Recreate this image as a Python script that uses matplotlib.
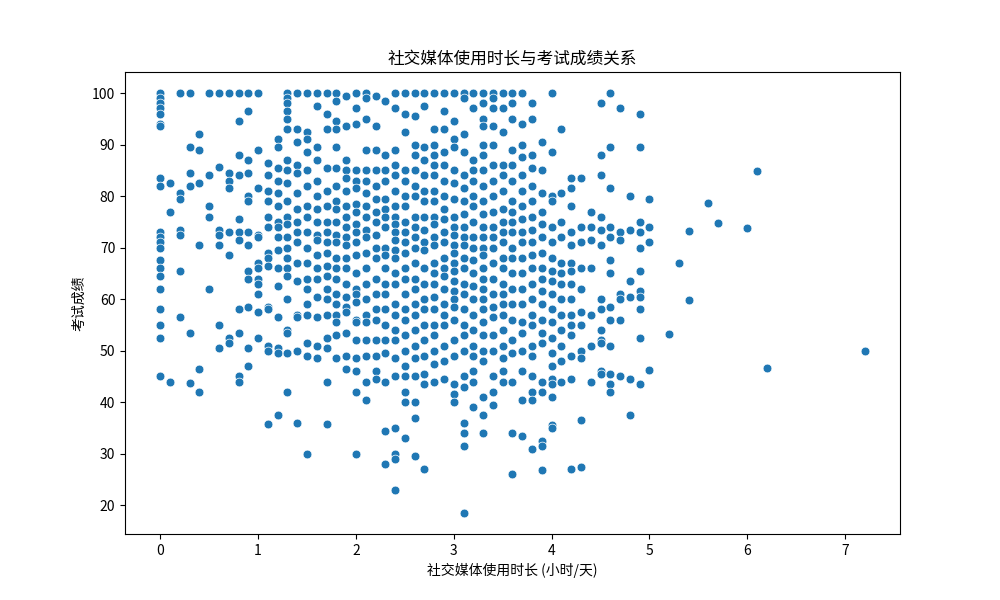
import matplotlib
matplotlib.use('Agg')
import matplotlib.pyplot as plt
import pandas as pd
import seaborn as sns

plt.rcParams['font.family'] = ['Noto Sans CJK SC', 'DejaVu Sans']
plt.rcParams['axes.unicode_minus'] = False

# scores, grouped by daily social media hours
columns = {
    0.0: [100, 99, 98, 97, 96, 94, 93.5, 83.5, 82, 73, 72, 71, 70, 67.5, 66, 64.5, 62, 58, 55, 52.5, 45],
    0.1: [82.5, 77, 44],
    0.2: [100, 80.5, 79.5, 73.5, 72.5, 65.5, 56.5],
    0.3: [100, 89.5, 84.5, 82, 53.5, 43.8],
    0.4: [92, 89, 82.5, 70.5, 46.5, 42],
    0.5: [100, 84, 78, 76, 62],
    0.6: [100, 85.7, 73.5, 72.5, 70.5, 55, 50.5],
    0.7: [100, 84.5, 83, 81.5, 73, 68.5, 52.5, 51.5],
    0.8: [100, 94.5, 88, 84, 75.5, 73, 71.5, 58, 53.5, 45, 44],
    0.9: [100, 96.5, 87, 84.5, 80, 79, 73, 70.5, 65.5, 64, 58.5, 50.5, 47],
    1.0: [100, 89, 81.5, 72.5, 72, 67, 66, 64, 63, 61, 57.5, 52.5],
    1.1: [86.5, 84, 81, 79, 76, 74, 69, 68, 66.5, 58.5, 58, 51, 50, 35.8],
    1.2: [91, 89.5, 85.5, 83, 80.5, 78, 75, 74, 72, 69.5, 66, 62.5, 56.5, 50.5, 49.5, 37.5],
    1.3: [100, 99, 98, 96.5, 95, 93, 87, 85, 82.5, 79, 76, 74.5, 72, 70, 68, 66, 64.5, 60, 54, 53.5, 49.5, 42],
    1.4: [100, 93, 90.5, 86, 84.5, 80.5, 77.5, 75, 73, 71, 67, 63.5, 57, 56.5, 50, 36],
    1.5: [100, 92.5, 91, 88.5, 85, 82, 78, 76, 73, 70, 67, 64, 62, 59, 57, 51.5, 49, 30],
    1.6: [100, 97.5, 89.5, 87, 83, 80, 77.5, 75, 72.5, 71.5, 68.5, 66, 64, 60.5, 56.5, 51, 48.5],
    1.7: [100, 96, 93, 85.5, 81, 78, 75, 73, 71, 69, 66.5, 64.5, 62, 60, 57, 52.5, 50.5, 44, 35.8],
    1.8: [100, 98.5, 94.5, 93, 89.5, 85.5, 82, 79, 77.5, 75, 72.5, 71, 68, 66, 64, 61, 59, 57, 55.5, 53, 48.5],
    1.9: [99.5, 93.5, 87, 85, 83.5, 81, 78, 76, 74, 72, 70.5, 68, 66, 63, 60.5, 58.5, 57.5, 53.5, 49, 46.5],
    2.0: [100, 97, 94, 85, 83, 81.5, 78.5, 77, 74.5, 73, 71, 68.5, 65, 62, 61, 59.5, 56, 55.5, 52, 48.5, 46, 42, 30],
    2.1: [100, 99, 95, 89, 85, 83, 80.5, 78, 76, 73.5, 72, 69, 66, 63, 60, 57, 55.5, 52, 49, 44, 40.5],
    2.2: [99.5, 93.5, 89, 85, 82, 79.5, 77, 75, 72.5, 70, 68, 64, 61, 58, 56, 52, 49, 46, 44.5],
    2.3: [98.5, 88, 85, 83, 79.5, 77.5, 76, 74, 70, 68.5, 66, 63, 61, 58, 55, 52, 49.5, 44, 34.5, 28],
    2.4: [100, 97, 89, 86, 84, 81, 78, 76, 74.5, 73, 71.5, 69.5, 68, 65, 63, 59, 57, 54, 52, 48.5, 45, 35, 30, 29, 23],
    2.5: [100, 96, 92.5, 85, 83, 80, 78, 75, 73, 71, 69, 66, 64, 61, 58, 56, 53, 50, 47, 45, 42, 40, 33],
    2.6: [100, 95.5, 90, 88, 85, 82, 80, 76, 74, 72, 70, 67, 64, 62, 59, 57, 54, 51, 48.5, 45, 40, 37, 29.5],
    2.7: [100, 97.5, 89.5, 87, 84, 81, 79, 76, 73.5, 71, 69.5, 66, 63, 60, 58, 55, 52, 49, 45.5, 43.5, 27],
    2.8: [100, 93, 90, 88, 86, 84, 81, 79, 76, 74.5, 72, 70.5, 67, 65, 63, 60.5, 58, 55, 53, 50, 47.5, 44],
    2.9: [100, 96.5, 93, 88.5, 86, 83, 80, 77.5, 75.5, 73, 71, 68, 66, 64.5, 62, 59, 57, 55, 51, 48, 44.5],
    3.0: [100, 94.5, 91, 89.5, 85, 82.5, 79.5, 76, 74, 72.5, 70.5, 69, 67, 65.5, 63.5, 61.5, 60, 58.5, 56, 52, 49, 43.5, 41.5, 40],
    3.1: [100, 99, 92, 88.5, 84, 81.5, 79, 76.5, 74, 72, 70.5, 68, 66, 63, 61, 58, 55, 53, 50, 45, 43, 36, 34, 31.5, 18.5],
    3.2: [100, 97, 87, 85, 83, 80, 78, 75, 72, 70, 67.5, 65, 62.5, 60, 57, 54, 51, 49, 46, 44, 39],
    3.3: [100, 98, 95, 93.5, 90, 88, 85, 82, 79, 76.5, 74, 72, 70, 68.5, 66, 64, 62, 60, 58, 55.5, 53, 50, 48, 41, 37.5, 34],
    3.4: [100, 99, 97, 93.5, 90, 86, 83, 80, 77, 74, 72, 70, 67, 64, 61, 58.5, 56.5, 53, 50, 45, 42, 39.5],
    3.5: [100, 97, 92.5, 86, 84, 81, 77.5, 75, 73, 71, 68, 66, 63, 61, 59, 57, 54, 51, 48.5, 46, 44],
    3.6: [100, 98, 95, 89, 86, 83, 79, 77, 75, 73, 70, 68, 65, 62, 59, 56, 52, 49.5, 44, 34, 26],
    3.7: [100, 94, 90, 87.5, 84, 81, 78, 75.5, 73, 71, 68, 65, 62, 59, 55.5, 53.5, 50, 46, 40.5, 33.5],
    3.8: [98, 95, 88, 85.5, 82, 79, 76, 73.5, 71, 68.5, 66, 63, 60, 57, 55, 51, 49, 45, 42, 40.5, 31],
    3.9: [90.5, 85, 80.5, 77, 74.5, 72, 69, 66, 64, 61.5, 59, 56, 53.5, 51.5, 44, 42, 32.5, 31.5, 26.8],
    4.0: [100, 88.5, 80, 79, 74, 71, 68, 65.5, 63.5, 61, 58, 55.5, 52.5, 49.5, 47, 44.5, 43.5, 41, 35.5, 35],
    4.1: [93, 80.5, 75, 72, 67, 65, 63, 60, 57, 54, 51, 48, 44],
    4.2: [83.5, 81.5, 78, 73, 70.5, 67, 65.5, 63, 60, 57, 55, 53, 49, 44.5, 27],
    4.3: [83.5, 74, 71, 66, 62, 57.5, 55, 50, 48.5, 36.5, 27.5],
    4.4: [77, 74, 71.5, 66, 57, 51, 44],
    4.5: [98, 88, 84, 76, 73.5, 70.5, 60, 58, 54, 52, 51.5, 46, 45.5],
    4.6: [100, 89.5, 81.5, 74, 72, 67.5, 65, 58.5, 56, 51, 45.5, 43.5, 42],
    4.7: [97, 73, 71.5, 61, 60, 56, 45],
    4.8: [80, 73.5, 63.5, 60.5, 44.5, 37.5],
    4.9: [96, 89.5, 75, 73, 70, 65.5, 61.5, 60.5, 58, 52.5, 43.5],
    5.0: [79.5, 74, 71, 46.3],
    5.2: [53.3],
    5.3: [67],
    5.4: [73.2, 59.8],
    5.6: [78.6],
    5.7: [74.8],
    6.0: [73.8],
    6.1: [84.8],
    6.2: [46.7],
    7.2: [50],
}

hours = [h for h, vals in columns.items() for _ in vals]
scores = [s for vals in columns.values() for s in vals]
df = pd.DataFrame({'hours': hours, 'score': scores})

fig, ax = plt.subplots(figsize=(10, 6), dpi=100)
sns.scatterplot(data=df, x='hours', y='score', ax=ax, s=40)
ax.set_title('社交媒体使用时长与考试成绩关系')
ax.set_xlabel('社交媒体使用时长 (小时/天)')
ax.set_ylabel('考试成绩')
ax.set_yticks(range(20, 101, 10))
plt.savefig('out.png')
